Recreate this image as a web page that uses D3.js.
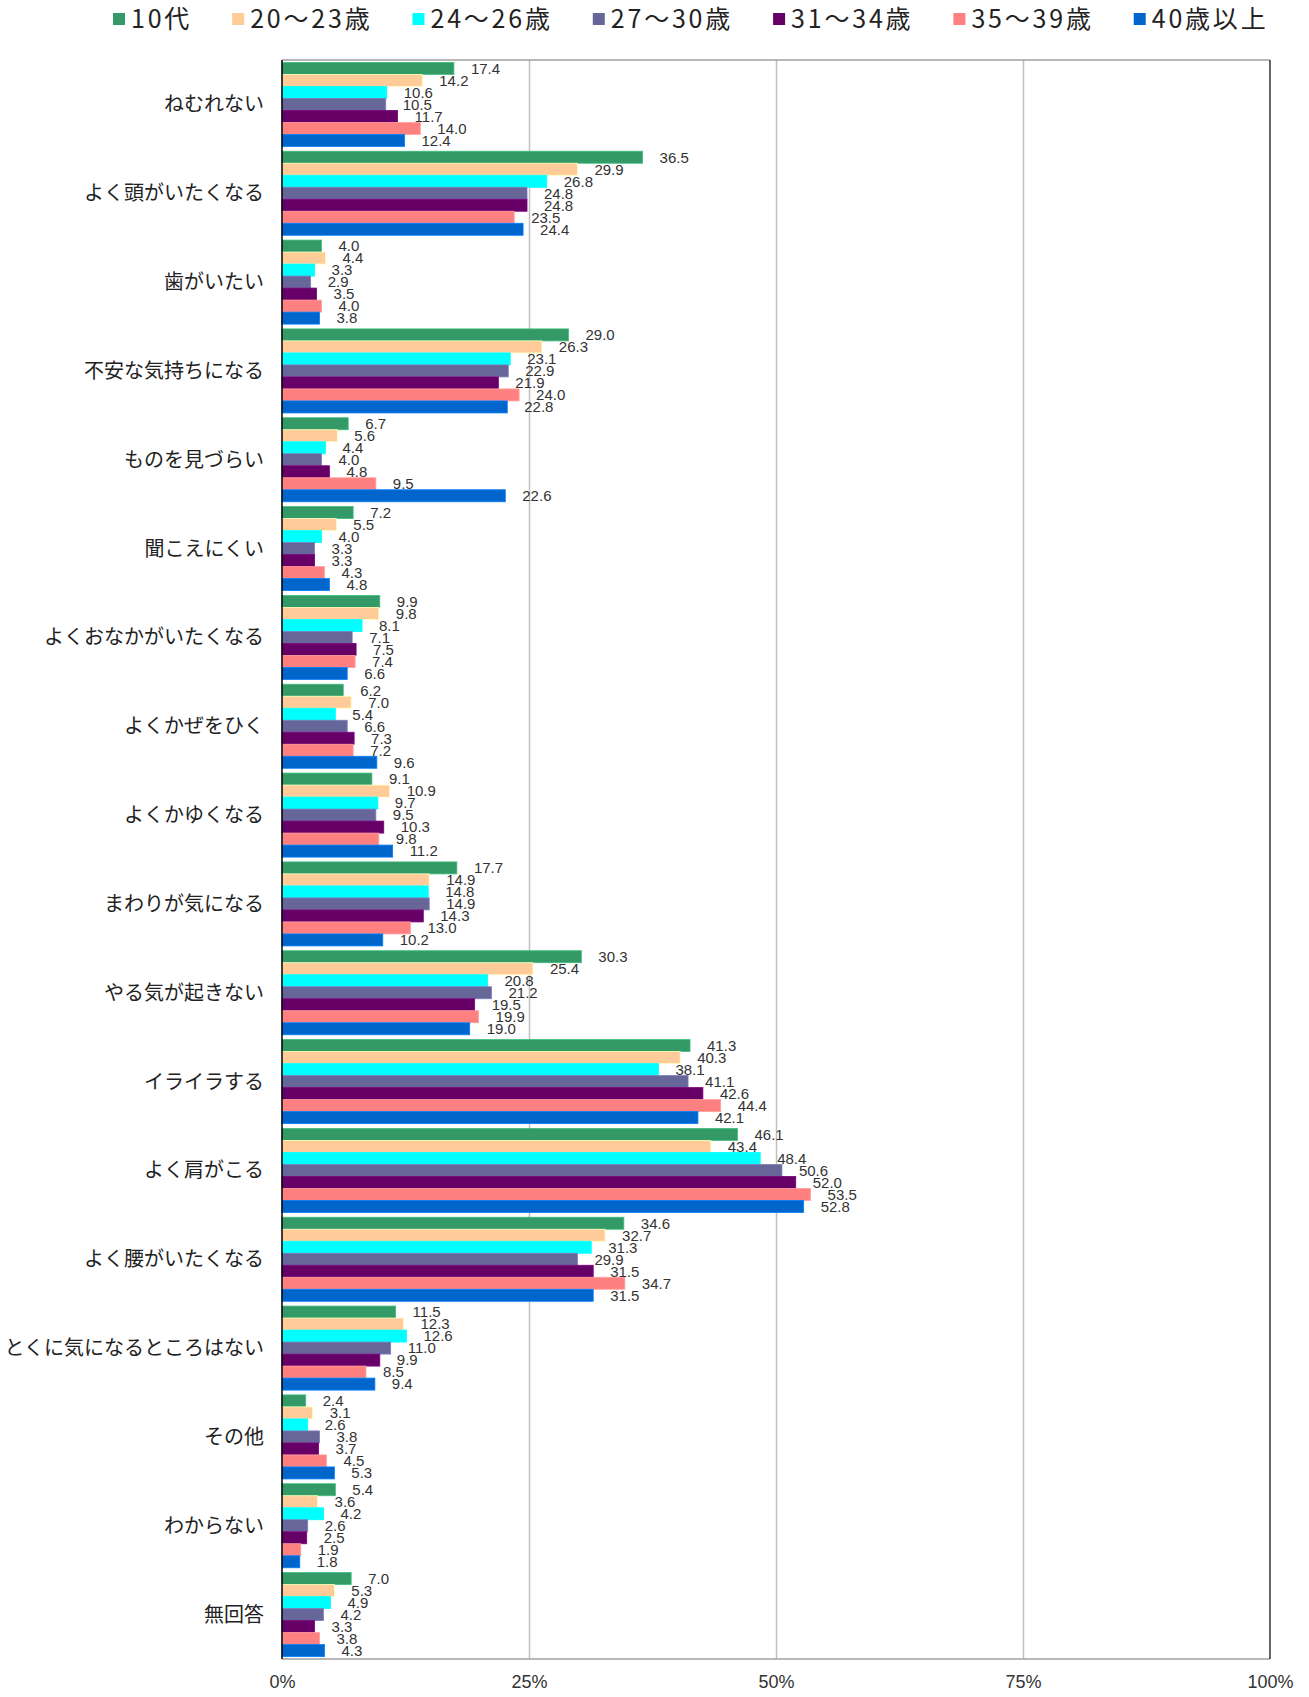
<!DOCTYPE html>
<html>
<head>
<meta charset="utf-8">
<script src="https://cdn.jsdelivr.net/npm/d3@7"></script>
<style>
  body { margin: 0; background: #fff; }
</style>
</head>
<body>
<svg id="chart" width="1309" height="1697"></svg>
<script>
// categories (top to bottom)
var categories = ["ねむれない", "よく頭がいたくなる", "歯がいたい", "不安な気持ちになる", "ものを見づらい",
    "聞こえにくい", "よくおなかがいたくなる", "よくかぜをひく", "よくかゆくなる", "まわりが気になる",
    "やる気が起きない", "イライラする", "よく肩がこる", "よく腰がいたくなる", "とくに気になるところはない",
    "その他", "わからない", "無回答"];

var seriesNames = ["10代", "20～23歳", "24～26歳", "27～30歳", "31～34歳", "35～39歳", "40歳以上"];
var seriesColors = ["#339966", "#ffcc99", "#00ffff", "#666699", "#660066", "#ff8080", "#0066cc"];

// percent values, one array per age group
var teens  = [17.4, 36.5, 4.0, 29.0, 6.7, 7.2, 9.9, 6.2, 9.1, 17.7, 30.3, 41.3, 46.1, 34.6, 11.5, 2.4, 5.4, 7.0];
var age20  = [14.2, 29.9, 4.4, 26.3, 5.6, 5.5, 9.8, 7.0, 10.9, 14.9, 25.4, 40.3, 43.4, 32.7, 12.3, 3.1, 3.6, 5.3];
var age24  = [10.6, 26.8, 3.3, 23.1, 4.4, 4.0, 8.1, 5.4, 9.7, 14.8, 20.8, 38.1, 48.4, 31.3, 12.6, 2.6, 4.2, 4.9];
var age27  = [10.5, 24.8, 2.9, 22.9, 4.0, 3.3, 7.1, 6.6, 9.5, 14.9, 21.2, 41.1, 50.6, 29.9, 11.0, 3.8, 2.6, 4.2];
var age31  = [11.7, 24.8, 3.5, 21.9, 4.8, 3.3, 7.5, 7.3, 10.3, 14.3, 19.5, 42.6, 52.0, 31.5, 9.9, 3.7, 2.5, 3.3];
var age35  = [14.0, 23.5, 4.0, 24.0, 9.5, 4.3, 7.4, 7.2, 9.8, 13.0, 19.9, 44.4, 53.5, 34.7, 8.5, 4.5, 1.9, 3.8];
var age40  = [12.4, 24.4, 3.8, 22.8, 22.6, 4.8, 6.6, 9.6, 11.2, 10.2, 19.0, 42.1, 52.8, 31.5, 9.4, 5.3, 1.8, 4.3];

var tickValues = [0, 25, 50, 75, 100];
var tickLabels = ["0%", "25%", "50%", "75%", "100%"];

var series = [teens, age20, age24, age27, age31, age35, age40];

var svg = d3.select("#chart"),
    width = +svg.attr("width"),
    height = +svg.attr("height"),
    margin = {top: 60, right: 39, bottom: 38, left: 282},
    plotW = width - margin.left - margin.right,
    plotH = height - margin.top - margin.bottom;

svg.append("rect").attr("width", width).attr("height", height).attr("fill", "#fff");

var x = d3.scaleLinear().domain([0, 100]).range([0, plotW]);
var y = d3.scaleBand().domain(categories).range([0, plotH]).paddingInner(0.054).paddingOuter(0.027);
var ySub = d3.scaleBand().domain(d3.range(seriesNames.length)).range([0, y.bandwidth()]);

var g = svg.append("g").attr("transform", "translate(" + margin.left + "," + margin.top + ")");

// gridlines
g.append("g")
    .attr("transform", "translate(0," + plotH + ")")
    .call(d3.axisBottom(x).tickValues([25, 50, 75]).tickSize(-plotH).tickFormat(""))
    .call(function (a) {
      a.select(".domain").remove();
      a.selectAll("line").attr("stroke", "#c0c0c0").attr("stroke-width", 1.5);
    });

// frame
g.append("line").attr("x1", 0).attr("x2", plotW).attr("y1", 0).attr("y2", 0)
    .attr("stroke", "#a0a0a0").attr("stroke-width", 1.5);
g.append("line").attr("x1", 0).attr("x2", plotW).attr("y1", plotH).attr("y2", plotH)
    .attr("stroke", "#a0a0a0").attr("stroke-width", 1.5);
g.append("line").attr("x1", plotW).attr("x2", plotW).attr("y1", 0).attr("y2", plotH)
    .attr("stroke", "#000").attr("stroke-width", 1.2);

// bars
var groups = g.selectAll(".cat")
    .data(categories)
    .enter().append("g")
    .attr("class", "cat")
    .attr("transform", function (d) { return "translate(0," + y(d) + ")"; });

groups.each(function (cat, ci) {
  var rows = series.map(function (s, si) { return {si: si, v: s[ci]}; });
  var grp = d3.select(this);

  grp.selectAll("rect")
      .data(rows)
      .enter().append("rect")
      .attr("x", 0)
      .attr("y", function (d) { return ySub(d.si); })
      .attr("width", function (d) { return x(d.v); })
      .attr("height", ySub.bandwidth())
      .attr("fill", function (d) { return seriesColors[d.si]; })
      .attr("stroke", function (d) { return d3.color(seriesColors[d.si]).brighter(0.6); })
      .attr("stroke-width", 0.8);

  grp.selectAll("text")
      .data(rows)
      .enter().append("text")
      .attr("x", function (d) { return x(d.v) + 17; })
      .attr("y", function (d) { return ySub(d.si) + ySub.bandwidth() / 2; })
      .attr("dy", "0.36em")
      .attr("font-family", "'Liberation Sans', Arial, sans-serif")
      .attr("font-size", 15)
      .attr("fill", "#333")
      .text(function (d) { return d.v.toFixed(1); });
});

// category axis (left)
g.append("line").attr("x1", 0).attr("x2", 0).attr("y1", 0).attr("y2", plotH)
    .attr("stroke", "#000").attr("stroke-width", 1.5);

g.selectAll(".catLabel")
    .data(categories)
    .enter().append("text")
    .attr("class", "catLabel")
    .attr("x", -18)
    .attr("y", function (d) { return y(d) + y.bandwidth() / 2; })
    .attr("dy", "0.35em")
    .attr("text-anchor", "end")
    .attr("font-family", "'Noto Sans CJK JP', sans-serif")
    .attr("font-size", 20)
    .attr("fill", "#222")
    .text(function (d) { return d; });

// value axis (bottom)
g.append("g")
    .attr("transform", "translate(0," + plotH + ")")
    .call(d3.axisBottom(x).tickValues(tickValues).tickSize(0).tickPadding(16)
        .tickFormat(function (d, i) { return tickLabels[i]; }))
    .call(function (a) {
      a.select(".domain").remove();
      a.selectAll("text")
          .attr("font-family", "'Liberation Sans', Arial, sans-serif")
          .attr("font-size", 18)
          .attr("fill", "#333");
    });

// legend
var legend = svg.append("g").attr("transform", "translate(113,0)");
var lx = 0;
seriesNames.forEach(function (name, i) {
  var item = legend.append("g").attr("transform", "translate(" + lx + ",0)");
  item.append("rect")
      .attr("x", 0).attr("y", 13)
      .attr("width", 12).attr("height", 12)
      .attr("fill", seriesColors[i]);
  var t = item.append("text")
      .attr("x", 18).attr("y", 19)
      .attr("dy", "0.36em")
      .attr("font-family", "'Noto Sans CJK JP', sans-serif")
      .attr("font-size", 25)
      .attr("letter-spacing", 2.8)
      .attr("fill", "#222")
      .text(name);
  lx += 18 + t.node().getComputedTextLength() + 40;
});
</script>
</body>
</html>
